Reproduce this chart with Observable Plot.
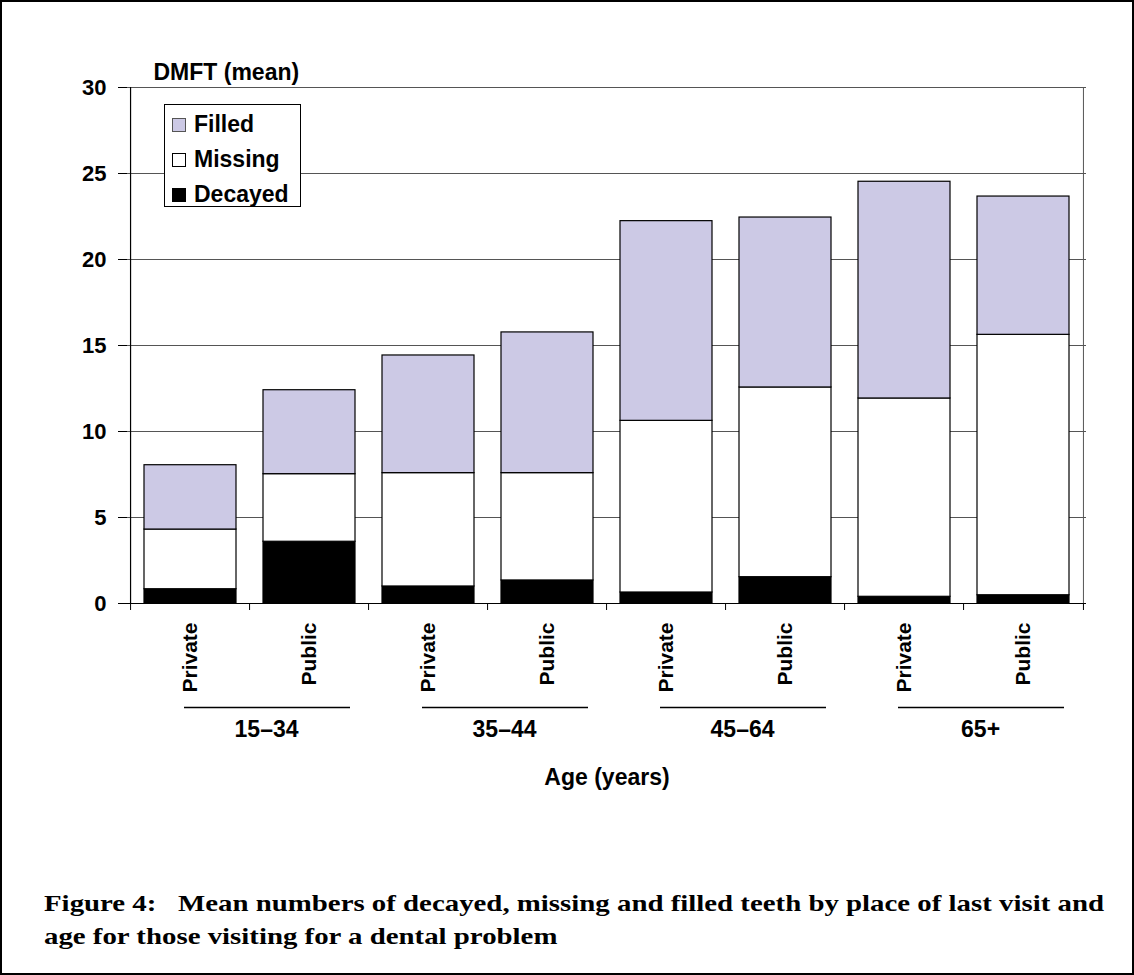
<!DOCTYPE html>
<html>
<head>
<meta charset="utf-8">
<script src="https://cdn.jsdelivr.net/npm/d3@7"></script>
<script src="https://cdn.jsdelivr.net/npm/@observablehq/plot@0.6"></script>
<style>
  body { margin: 0; background: #fff; }
  #wrap { position: relative; width: 1134px; height: 975px; overflow: hidden; background: #fff;
          font-family: "Liberation Sans", Arial, sans-serif; }
  #border { position: absolute; left: 0; top: 0; width: 1134px; height: 975px; box-sizing: border-box;
            border: 2px solid #000; pointer-events: none; }
  #legend { position: absolute; left: 164px; top: 104px; width: 137px; height: 103px; box-sizing: border-box;
            border: 1px solid #000; background: #fff; }
  .lrow { position: absolute; left: 7px; height: 35px; display: flex; align-items: center;
          font-weight: bold; font-size: 23px; color: #000; }
  .lsw { width: 14px; height: 14px; box-sizing: border-box; margin-right: 8px; }
  #cap { position: absolute; left: 0; top: 0; }
</style>
</head>
<body>
<div id="wrap">
  <div id="chart"></div>
  <div id="legend"></div>
  <svg id="cap" width="1134" height="975"></svg>
  <div id="border"></div>
</div>
<script>
// ---- data ----
const groups = ["15–34", "35–44", "45–64", "65+"];
const places = ["Private", "Public"];
const decayed = [0.83, 3.59, 0.99, 1.34, 0.64, 1.53, 0.39, 0.48];
const missing = [3.47, 3.93, 6.59, 6.24, 9.98, 11.03, 11.53, 15.14];
const filled  = [3.74, 4.88, 6.84, 8.18, 11.61, 9.88, 12.60, 8.04];
const parts = ["Decayed", "Missing", "Filled"];          // stack order, bottom to top
const legendOrder = ["Filled", "Missing", "Decayed"];
const partColors = ["#000000", "#ffffff", "#ccc9e5"];
const swatchStrokes = ["#000000", "#000000", "#555555"];
const yTicks = [0, 5, 10, 15, 20, 25, 30];
const yLabel = "DMFT (mean)";
const xLabel = "Age (years)";
const captionLines = [
  "Figure 4:   Mean numbers of decayed, missing and filled teeth by place of last visit and",
  "age for those visiting for a dental problem"
];

// ---- table ----
const keys = [];
groups.forEach(g => places.forEach(p => keys.push(g + "|" + p)));
const series = {Decayed: decayed, Missing: missing, Filled: filled};
const rows = [];
keys.forEach((k, i) => parts.forEach(part => rows.push({key: k, part, value: series[part][i]})));

// ---- layout ----
const W = 1134, H = 830, mL = 127, mR = 48, mT = 87, mB = H - 603;
const step = (W - mL - mR) / keys.length, half = step / 2;
const font = "'Liberation Sans', Arial, sans-serif";

const chart = Plot.plot({
  width: W, height: H,
  marginLeft: mL, marginRight: mR, marginTop: mT, marginBottom: mB,
  style: {fontFamily: font, fontWeight: "bold", color: "#000", background: "transparent", overflow: "visible"},
  x: {domain: keys, paddingInner: 0.225, paddingOuter: 0.1125, axis: null},
  y: {domain: [0, 30], axis: null},
  color: {domain: parts, range: partColors},
  marks: [
    Plot.gridY(yTicks.slice(1), {stroke: "#555", strokeOpacity: 1, strokeWidth: 1}),
    Plot.ruleX([keys[keys.length - 1]], {x: d => d, y1: 0, y2: 30, dx: half, stroke: "#555", strokeWidth: 1}),
    Plot.barY(rows, {x: "key", y: "value", fill: "part", stroke: "#000", strokeWidth: 1.2}),
    Plot.ruleY([0], {stroke: "#000", strokeWidth: 1.2}),
    Plot.ruleX([keys[0]], {x: d => d, y1: 0, y2: 30, dx: -half, stroke: "#000", strokeWidth: 1.2}),
    Plot.axisY({ticks: yTicks, tickSize: 9, tickPadding: 12, fontSize: 22, tickFormat: d => String(d), label: null}),
    Plot.axisX({tickSize: 7, tickFormat: () => "", dx: -half, label: null}),
    Plot.axisX([keys[keys.length - 1]], {tickSize: 7, tickFormat: () => "", dx: half, label: null}),
    Plot.axisX({tickSize: 0, tickPadding: 19, tickRotate: -90, fontSize: 21, tickFormat: k => k.split("|")[1], label: null}),
    Plot.ruleY(groups, {y: () => 0, x1: g => g + "|Private", x2: g => g + "|Public", dy: 104,
                        insetLeft: 40, insetRight: 5, stroke: "#000", strokeWidth: 1.3}),
    Plot.text(groups, {x: g => g + "|Public", y: () => 0, text: d => d, dx: -half + 17, dy: 126, fontSize: 23}),
    Plot.text([yLabel], {frameAnchor: "top-left", text: d => d, dx: 26, dy: -24, textAnchor: "start", fontSize: 23}),
    Plot.text([xLabel], {frameAnchor: "bottom", text: d => d, dy: 181, fontSize: 23})
  ]
});
document.getElementById("chart").appendChild(chart);

// ---- legend ----
const lg = document.getElementById("legend");
legendOrder.forEach((name, i) => {
  const idx = parts.indexOf(name);
  const row = document.createElement("div");
  row.className = "lrow";
  row.style.top = (2 + i * 35) + "px";
  const sw = document.createElement("div");
  sw.className = "lsw";
  sw.style.background = partColors[idx];
  sw.style.border = "1px solid " + swatchStrokes[idx];
  row.appendChild(sw);
  row.appendChild(document.createTextNode(name));
  lg.appendChild(row);
});

// ---- caption ----
const cap = d3.select("#cap");
const capX = 44, capY = [911, 944], capW = 1060;
const tEls = captionLines.map((line, i) => cap.append("text")
  .attr("x", capX).attr("y", capY[i])
  .attr("font-family", "'Liberation Serif', 'DejaVu Serif', serif")
  .attr("font-weight", "bold").attr("font-size", 23)
  .style("white-space", "pre").text(line));
const natural = tEls.map(t => t.node().getComputedTextLength());
const factor = capW / natural[0];
tEls.forEach((t, i) => t.attr("textLength", natural[i] * factor).attr("lengthAdjust", "spacingAndGlyphs"));
</script>
</body>
</html>
